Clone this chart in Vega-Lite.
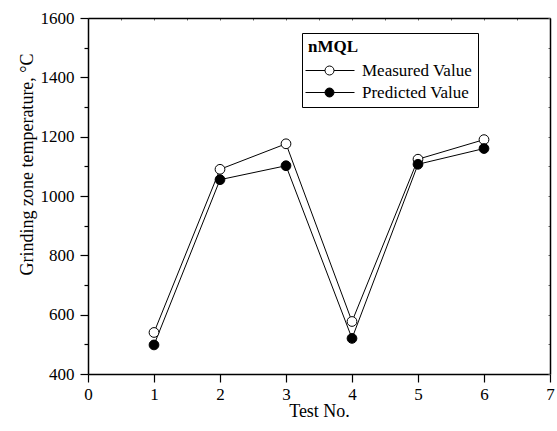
{
  "$schema": "https://vega.github.io/schema/vega-lite/v6.json",
  "width": 462,
  "height": 356,
  "autosize": {"type": "none"},
  "padding": {"left": 88, "top": 18, "right": 7, "bottom": 57},
  "background": "white",
  "config": {
    "view": {"stroke": null},
    "font": "Liberation Serif",
    "axis": {"grid": false, "domainColor": "black", "tickColor": "black", "labelColor": "black", "titleColor": "black", "labelFont": "Liberation Serif", "titleFont": "Liberation Serif", "labelFontSize": 17, "titleFontSize": 18, "titleFontWeight": "normal", "domainWidth": 1.5, "tickWidth": 1.2}
  },
  "data": {"values": [
    {"test": 1, "value": 540, "series": "Measured Value"},
    {"test": 2, "value": 1090, "series": "Measured Value"},
    {"test": 3, "value": 1176, "series": "Measured Value"},
    {"test": 4, "value": 577, "series": "Measured Value"},
    {"test": 5, "value": 1124, "series": "Measured Value"},
    {"test": 6, "value": 1190, "series": "Measured Value"},
    {"test": 1, "value": 498, "series": "Predicted Value"},
    {"test": 2, "value": 1055, "series": "Predicted Value"},
    {"test": 3, "value": 1102, "series": "Predicted Value"},
    {"test": 4, "value": 520, "series": "Predicted Value"},
    {"test": 5, "value": 1107, "series": "Predicted Value"},
    {"test": 6, "value": 1160, "series": "Predicted Value"}
  ]},
  "resolve": {"axis": {"x": "independent", "y": "independent"}},
  "layer": [
    {
      "mark": {"type": "line", "stroke": "black", "strokeWidth": 1},
      "encoding": {
        "x": {"field": "test", "type": "quantitative",
          "scale": {"domain": [0, 7], "nice": false, "zero": false},
          "axis": {"orient": "bottom", "title": "Test No.", "values": [0, 0.5, 1, 1.5, 2, 2.5, 3, 3.5, 4, 4.5, 5, 5.5, 6, 6.5, 7],
            "format": "d",
            "labelExpr": "datum.value % 1 === 0 ? datum.label : ''",
            "labelFont": "Liberation Serif", "titleFont": "Liberation Serif",
            "tickSize": {"condition": {"test": "datum.value % 1 === 0", "value": 8}, "value": 4},
            "labelPadding": 4, "titlePadding": 0, "labelFlush": false, "labelOverlap": false}},
        "y": {"field": "value", "type": "quantitative",
          "scale": {"domain": [400, 1600], "nice": false, "zero": false},
          "axis": {"orient": "left", "title": "Grinding zone temperature, °C", "values": [400, 500, 600, 700, 800, 900, 1000, 1100, 1200, 1300, 1400, 1500, 1600],
            "labelExpr": "datum.value % 200 === 0 ? datum.label : ''",
            "format": "d",
            "labelFont": "Liberation Serif", "titleFont": "Liberation Serif",
            "tickSize": {"condition": {"test": "datum.value % 200 === 0", "value": 8}, "value": 4},
            "titleY": 146,
            "labelPadding": 6, "titlePadding": 4, "labelFlush": false, "labelOverlap": false}},
        "detail": {"field": "series"}
      }
    },
    {
      "mark": {"type": "point", "shape": "circle", "filled": false, "stroke": "black", "strokeWidth": 1, "size": 95, "opacity": 1},
      "encoding": {
        "x": {"field": "test", "type": "quantitative",
          "axis": {"orient": "top", "title": null, "labels": false, "values": [0, 0.5, 1, 1.5, 2, 2.5, 3, 3.5, 4, 4.5, 5, 5.5, 6, 6.5, 7], "tickSize": -2, "tickWidth": 1, "tickColor": "#666"}},
        "y": {"field": "value", "type": "quantitative",
          "axis": {"orient": "right", "title": null, "labels": false, "values": [400, 500, 600, 700, 800, 900, 1000, 1100, 1200, 1300, 1400, 1500, 1600], "tickSize": -2, "tickWidth": 1, "tickColor": "#666"}},
        "fill": {"field": "series", "type": "nominal",
          "scale": {"domain": ["Measured Value", "Predicted Value"], "range": ["white", "black"]},
          "legend": {
            "title": "nMQL",
            "orient": "none", "legendX": 214, "legendY": 15,
            "titleFont": "Liberation Serif", "titleFontSize": 17, "titleFontWeight": "bold", "titleColor": "black", "titlePadding": 6,
            "labelFont": "Liberation Serif", "labelFontSize": 17, "labelColor": "black",
            "symbolType": "M-2.2,0L1.7,0M3.5,0L7.6,0M3.5,0A0.9,0.9,0,1,1,1.7,0A0.9,0.9,0,1,1,3.5,0Z",
            "symbolSize": 100, "symbolStrokeColor": "black", "symbolStrokeWidth": 1, "symbolOpacity": 1,
            "labelOffset": 37, "rowPadding": 4,
            "padding": 6, "strokeColor": "black", "fillColor": "white"
          }
        }
      }
    }
  ]
}
